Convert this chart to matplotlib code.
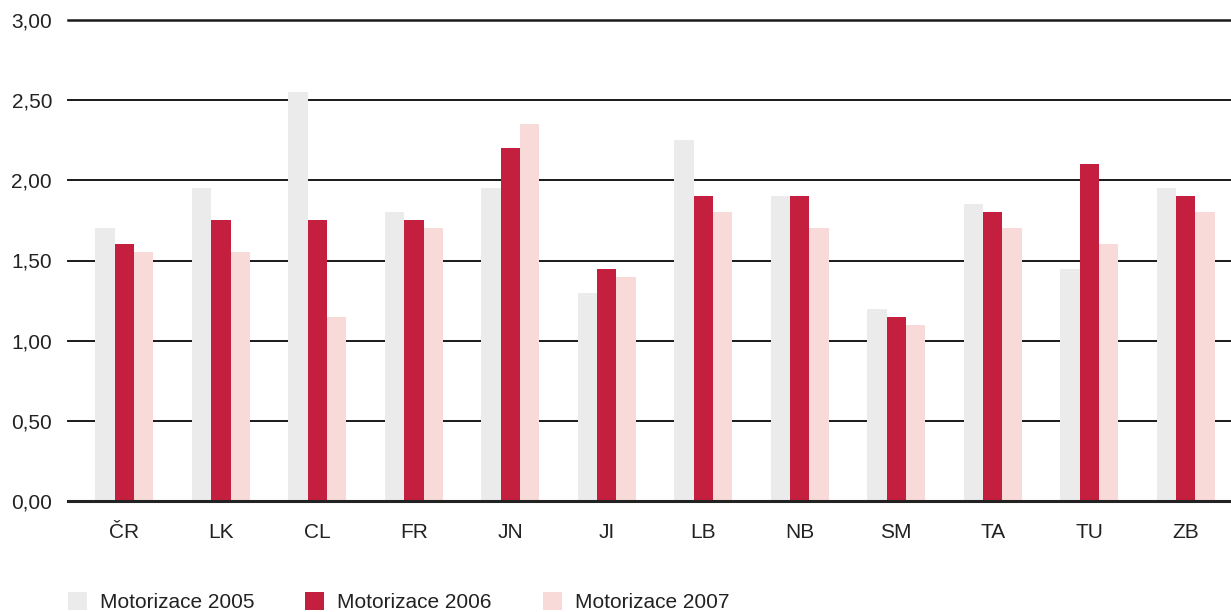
import matplotlib
matplotlib.use("Agg")
import matplotlib.pyplot as plt
import numpy as np

plt.rcParams['font.family'] = ['Liberation Sans', 'DejaVu Sans']

kraje = ['ČR', 'LK', 'CL', 'FR', 'JN', 'JI', 'LB', 'NB', 'SM', 'TA', 'TU', 'ZB']
motorizace_2005 = [1.70, 1.95, 2.55, 1.80, 1.95, 1.30, 2.25, 1.90, 1.20, 1.85, 1.45, 1.95]
motorizace_2006 = [1.60, 1.75, 1.75, 1.75, 2.20, 1.45, 1.90, 1.90, 1.15, 1.80, 2.10, 1.90]
motorizace_2007 = [1.55, 1.55, 1.15, 1.70, 2.35, 1.40, 1.80, 1.70, 1.10, 1.70, 1.60, 1.80]
legend_labels = ['Motorizace 2005', 'Motorizace 2006', 'Motorizace 2007']
y_ticks = [0.0, 0.5, 1.0, 1.5, 2.0, 2.5, 3.0]

colors = ['#ebebeb', '#c41f3e', '#f8dbd8']
fs = 15

fig = plt.figure(figsize=(12.31, 6.12), dpi=100)
ax = fig.add_axes([68 / 1231, 1 - 501 / 612, 1 - 68 / 1231, (501 - 20) / 612])

x = np.arange(len(kraje))
w = 0.2
series = [motorizace_2005, motorizace_2006, motorizace_2007]
bars = []
for i, s in enumerate(series):
    b = ax.bar(x + (i - 1) * w, s, width=w, color=colors[i], zorder=3,
               label=legend_labels[i])
    bars.append(b)

# grid lines behind the bars
for t in y_ticks[1:]:
    lw = 1.8 if t == 3.0 else 1.4
    ax.axhline(t, color='#1a1a1a', lw=lw, zorder=1, clip_on=False)
ax.axhline(0, color='#222222', lw=2.2, zorder=4, clip_on=False)

ax.set_xlim(-0.585, 11.47)
ax.set_ylim(0, 3.0)
ax.set_yticks(y_ticks)
ax.set_yticklabels([('%.2f' % t).replace('.', ',') for t in y_ticks], fontsize=fs,
                   color='#222222')
ax.set_xticks(x)
ax.set_xticklabels(kraje, fontsize=fs, color='#222222')
ax.tick_params(axis='y', length=0, pad=11.5)
ax.tick_params(axis='x', length=0, pad=15.5)
for sp in ax.spines.values():
    sp.set_visible(False)

fig.legend(handles=bars, labels=legend_labels, loc='center left',
           bbox_to_anchor=(68 / 1231, 1 - 602 / 612), ncol=3, frameon=False,
           fontsize=fs, handlelength=0.9, handleheight=1.0, handletextpad=0.63,
           columnspacing=2.45, borderpad=0, borderaxespad=0,
           labelcolor='#222222')

fig.savefig('out.png', dpi=100)
